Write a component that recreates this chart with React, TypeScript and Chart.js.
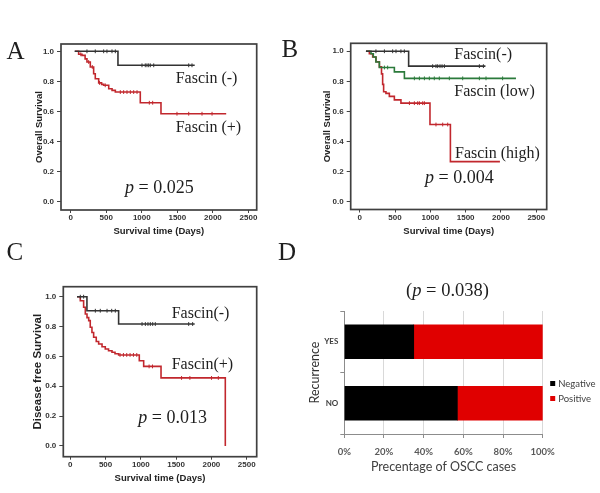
import React, { useEffect, useRef } from "react";
import { Chart, registerables } from "chart.js";
Chart.register(...registerables);

// ---------- shared ticks ----------
const dayTicks = [0, 500, 1000, 1500, 2000, 2500];
const survTicks = [0, 0.2, 0.4, 0.6, 0.8, 1.0];

// ---------- Panel A: Overall survival, Fascin (-) vs (+) ----------
const aNegTimes = [55, 665, 1744];
const aNegSurv = [1.0, 0.907, 0.907];
const aNegCensored = [229, 346, 464, 510, 581, 628, 1003, 1049, 1073, 1097, 1120, 1168, 1660, 1706];
const aPosTimes = [61, 112, 159, 203, 229, 276, 323, 346, 394, 435, 464, 535, 582, 628, 979, 1270, 2187];
const aPosSurv = [1.0, 0.98, 0.973, 0.95, 0.929, 0.896, 0.851, 0.818, 0.79, 0.78, 0.774, 0.751, 0.74, 0.729, 0.658, 0.585, 0.585];
const aPosCensored = [142, 253, 304, 405, 486, 698, 745, 792, 839, 886, 933, 1106, 1153, 1495, 1660, 1847, 1988];

// ---------- Panel B: Overall survival, Fascin (-) / low / high ----------
const bNegTimes = [89, 693, 1780];
const bNegSurv = [1.0, 0.901, 0.901];
const bNegCensored = [230, 350, 467, 514, 584, 632, 1033, 1080, 1104, 1137, 1166, 1199, 1694, 1751];
const bLowTimes = [89, 160, 193, 230, 279, 491, 633, 2212];
const bLowSurv = [1.0, 0.984, 0.962, 0.929, 0.892, 0.863, 0.82, 0.82];
const bLowCensored = [350, 396, 774, 845, 916, 986, 1056, 1127, 1269, 1458, 1694, 1788, 2023];
const bHighTimes = [89, 137, 184, 231, 279, 309, 325, 339, 372, 420, 491, 584, 995, 1284, 1985];
const bHighSurv = [1.0, 0.984, 0.962, 0.93, 0.896, 0.85, 0.78, 0.731, 0.72, 0.7, 0.677, 0.655, 0.513, 0.266, 0.266];
const bHighCensored = [704, 774, 821, 845, 892, 916, 1080, 1175, 1246];

// ---------- Panel C: Disease free survival ----------
const cNegTimes = [95, 236, 685, 1763];
const cNegSurv = [1.0, 0.906, 0.817, 0.817];
const cNegCensored = [142, 189, 355, 425, 521, 587, 638, 1017, 1064, 1101, 1134, 1168, 1205, 1678, 1734];
const cPosTimes = [95, 142, 189, 213, 237, 261, 283, 307, 331, 368, 402, 450, 496, 542, 591, 634, 685, 978, 1040, 1286, 2197];
const cPosSurv = [1.0, 0.973, 0.929, 0.884, 0.86, 0.84, 0.795, 0.76, 0.728, 0.7, 0.683, 0.665, 0.65, 0.638, 0.628, 0.618, 0.61, 0.571, 0.533, 0.456, 0];
const cPosCensored = [705, 753, 800, 847, 895, 942, 1117, 1165, 1577, 1695, 2002, 2098];

// ---------- Panel D: Recurrence vs Fascin ----------
const recurrenceCategories = ["YES", "NO"];
const negativePct = [35, 57];
const positivePct = [65, 43];
const pctTicks = [0, 20, 40, 60, 80, 100];

const BLACK = "#333333";
const RED = "#c1272d";
const GREEN = "#2b7a3b";

function stepAt(times: number[], surv: number[], t: number) {
  let s = surv[0];
  for (let i = 0; i < times.length; i++) if (times[i] <= t) s = surv[i];
  return s;
}

type Curve = { times: number[]; surv: number[]; censored: number[]; color: string };
type Area = { left: number; top: number; right: number; bottom: number };

const framePlugin = {
  id: "frame",
  beforeDatasetsDraw(chart: any) {
    const { ctx, chartArea: a } = chart;
    ctx.save();
    ctx.strokeStyle = "#404040";
    ctx.lineWidth = 1.7;
    ctx.strokeRect(a.left, a.top, a.right - a.left, a.bottom - a.top);
    ctx.restore();
  },
};

const smallFont = { family: "'Liberation Sans', Arial, sans-serif", size: 8, weight: "bold" as const };

function kmConfig(p: {
  curves: Curve[];
  area: Area;
  xMin: number;
  xMax: number;
  yMin: number;
  yMax: number;
  yTitle: string;
  yTitleSize: number;
  yAxisWidth: number;
  xAxisHeight: number;
}) {
  const datasets: any[] = [];
  p.curves.forEach((c) => {
    datasets.push({
      data: c.times.map((t, i) => ({ x: t, y: c.surv[i] })),
      borderColor: c.color,
      borderWidth: 1.6,
      stepped: true,
      pointRadius: 0,
      fill: false,
    });
    datasets.push({
      data: c.censored.map((t) => ({ x: t, y: stepAt(c.times, c.surv, t) })),
      showLine: false,
      pointStyle: "line",
      rotation: 90,
      pointRadius: 1.9,
      pointBorderColor: c.color,
      pointBorderWidth: 1,
      borderColor: c.color,
    });
  });
  return {
    type: "line",
    data: { datasets },
    options: {
      animation: false,
      responsive: false,
      devicePixelRatio: 1,
      events: [],
      layout: {
        padding: {
          left: p.area.left - p.yAxisWidth,
          top: p.area.top,
          right: 600 - p.area.right,
          bottom: 493 - p.area.bottom - p.xAxisHeight,
        },
      },
      plugins: { legend: { display: false }, tooltip: { enabled: false } },
      scales: {
        x: {
          type: "linear",
          min: p.xMin,
          max: p.xMax,
          afterBuildTicks: (s: any) => {
            s.ticks = dayTicks.map((v) => ({ value: v }));
          },
          afterFit: (s: any) => {
            s.height = p.xAxisHeight;
          },
          ticks: {
            font: smallFont,
            color: "#333",
            padding: 0,
            maxRotation: 0,
            autoSkip: false,
            callback: (v: any) => String(v),
          },
          grid: { drawOnChartArea: false, drawTicks: true, tickLength: 3, color: "#444", lineWidth: 1 },
          border: { display: false },
          title: {
            display: true,
            text: "Survival time (Days)",
            font: { family: "'Liberation Sans', Arial, sans-serif", size: 9.5, weight: "bold" },
            color: "#222",
            padding: 0,
          },
        },
        y: {
          type: "linear",
          min: p.yMin,
          max: p.yMax,
          afterBuildTicks: (s: any) => {
            s.ticks = survTicks.map((v) => ({ value: v }));
          },
          afterFit: (s: any) => {
            s.width = p.yAxisWidth;
          },
          ticks: {
            font: smallFont,
            color: "#333",
            padding: 3,
            autoSkip: false,
            callback: (v: any) => Number(v).toFixed(1),
          },
          grid: { drawOnChartArea: false, drawTicks: true, tickLength: 4, color: "#444", lineWidth: 1 },
          border: { display: false },
          title: {
            display: true,
            text: p.yTitle,
            font: { family: "'Liberation Sans', Arial, sans-serif", size: p.yTitleSize, weight: "bold" },
            color: "#222",
            padding: 0,
          },
        },
      },
    },
    plugins: [framePlugin],
  };
}

const configA = kmConfig({
  curves: [
    { times: aNegTimes, surv: aNegSurv, censored: aNegCensored, color: BLACK },
    { times: aPosTimes, surv: aPosSurv, censored: aPosCensored, color: RED },
  ],
  area: { left: 61, top: 44, right: 256.7, bottom: 210 },
  xMin: -136,
  xMax: 2616,
  yMin: -0.055,
  yMax: 1.0486,
  yTitle: "Overall Survival",
  yTitleSize: 9.5,
  yAxisWidth: 27.7,
  xAxisHeight: 27.3,
});

const configB = kmConfig({
  curves: [
    { times: bNegTimes, surv: bNegSurv, censored: bNegCensored, color: BLACK },
    { times: bLowTimes, surv: bLowSurv, censored: bLowCensored, color: GREEN },
    { times: bHighTimes, surv: bHighSurv, censored: bHighCensored, color: RED },
  ],
  area: { left: 350.7, top: 43.3, right: 546.7, bottom: 209.5 },
  xMin: -127,
  xMax: 2647,
  yMin: -0.052,
  yMax: 1.053,
  yTitle: "Overall Survival",
  yTitleSize: 9.5,
  yAxisWidth: 29,
  xAxisHeight: 27.3,
});

const configC = kmConfig({
  curves: [
    { times: cNegTimes, surv: cNegSurv, censored: cNegCensored, color: BLACK },
    { times: cPosTimes, surv: cPosSurv, censored: cPosCensored, color: RED },
  ],
  area: { left: 63.3, top: 286.7, right: 256.7, bottom: 456.7 },
  xMin: -99,
  xMax: 2642,
  yMin: -0.0717,
  yMax: 1.067,
  yTitle: "Disease free Survival",
  yTitleSize: 11.5,
  yAxisWidth: 32,
  xAxisHeight: 27.3,
});

const dArea: Area = { left: 344.3, top: 311, right: 542.7, bottom: 434 };
const dYWidth = 36.8;
const dXHeight = 40.5;

const dLegendPlugin = {
  id: "dLegend",
  afterDraw(chart: any) {
    const { ctx, chartArea: a } = chart;
    const mid = (a.top + a.bottom) / 2;
    ctx.save();
    chart.data.datasets.forEach((ds: any, i: number) => {
      const y = mid + 11 + i * 15;
      ctx.fillStyle = ds.backgroundColor;
      ctx.fillRect(a.right + 7.5, y - 2.5, 5, 5);
      ctx.fillStyle = "#404040";
      ctx.font = "9.5px Lato, sans-serif";
      ctx.textBaseline = "middle";
      ctx.textAlign = "left";
      ctx.fillText(ds.label, a.right + 15.5, y);
    });
    ctx.restore();
  },
};

const configD: any = {
  type: "bar",
  data: {
    labels: recurrenceCategories,
    datasets: [
      { label: "Negative", data: negativePct, backgroundColor: "#000000", barThickness: 34 },
      { label: "Positive", data: positivePct, backgroundColor: "#e00000", barThickness: 34 },
    ],
  },
  options: {
    indexAxis: "y",
    animation: false,
    responsive: false,
    devicePixelRatio: 1,
    events: [],
    layout: {
      padding: {
        left: dArea.left - dYWidth,
        top: dArea.top,
        right: 600 - dArea.right,
        bottom: 493 - dArea.bottom - dXHeight,
      },
    },
    plugins: { legend: { display: false }, tooltip: { enabled: false } },
    scales: {
      x: {
        stacked: true,
        min: 0,
        max: 100,
        afterBuildTicks: (s: any) => {
          s.ticks = pctTicks.map((v) => ({ value: v }));
        },
        afterFit: (s: any) => {
          s.height = dXHeight;
        },
        ticks: {
          callback: (v: any) => v + "%",
          font: { family: "Lato, sans-serif", size: 9.5, weight: "bold" },
          color: "#595959",
          padding: 8,
          maxRotation: 0,
          autoSkip: false,
        },
        grid: { color: "#d9d9d9", tickColor: "#8c8c8c", tickLength: 4, lineWidth: 1 },
        border: { color: "#8c8c8c", width: 1 },
        title: {
          display: true,
          text: "Precentage of OSCC cases",
          font: { family: "Lato, sans-serif", size: 12.5 },
          color: "#404040",
          padding: 0,
        },
      },
      y: {
        stacked: true,
        afterFit: (s: any) => {
          s.width = dYWidth;
        },
        ticks: {
          font: { family: "Lato, sans-serif", size: 8, weight: "bold" },
          color: "#404040",
          padding: 2,
        },
        grid: { drawOnChartArea: false, tickLength: 4, color: "#8c8c8c" },
        border: { color: "#8c8c8c", width: 1 },
        title: {
          display: true,
          text: "Recurrence",
          font: { family: "Lato, sans-serif", size: 12.5 },
          color: "#333333",
          padding: 0,
        },
      },
    },
  },
  plugins: [dLegendPlugin],
};

function ChartLayer({ config }: { config: any }) {
  const ref = useRef<HTMLCanvasElement | null>(null);
  useEffect(() => {
    if (!ref.current) return;
    const chart = new Chart(ref.current, config);
    return () => chart.destroy();
  }, [config]);
  return (
    <canvas
      ref={ref}
      width={600}
      height={493}
      style={{ position: "absolute", left: 0, top: 0, width: 600, height: 493 }}
    />
  );
}

function Label({
  left,
  cy,
  size,
  children,
  center,
}: {
  left: number;
  cy: number;
  size: number;
  children: React.ReactNode;
  center?: boolean;
}) {
  return (
    <div
      style={{
        position: "absolute",
        left,
        top: cy - size * 0.5,
        fontSize: size,
        lineHeight: `${size}px`,
        fontFamily: "'Liberation Serif', 'Times New Roman', serif",
        color: "#1e1e1e",
        whiteSpace: "nowrap",
        transform: center ? "translateX(-50%)" : undefined,
      }}
    >
      {children}
    </div>
  );
}

export default function App() {
  return (
    <div
      style={{
        position: "fixed",
        left: 0,
        top: 0,
        width: 600,
        height: 493,
        background: "#ffffff",
        overflow: "hidden",
      }}
    >
      <ChartLayer config={configA} />
      <ChartLayer config={configB} />
      <ChartLayer config={configC} />
      <ChartLayer config={configD} />

      <Label left={6.5} cy={50} size={25}>A</Label>
      <Label left={281.5} cy={48.3} size={25}>B</Label>
      <Label left={6.5} cy={251.5} size={25}>C</Label>
      <Label left={278} cy={251.5} size={25}>D</Label>

      <Label left={175.7} cy={78.3} size={16}>Fascin (-)</Label>
      <Label left={175.7} cy={126.7} size={16}>Fascin (+)</Label>
      <Label left={125} cy={186.7} size={18}>
        <i>p</i> = 0.025
      </Label>

      <Label left={454.3} cy={54} size={16}>Fascin(-)</Label>
      <Label left={454.3} cy={91} size={16}>Fascin (low)</Label>
      <Label left={455} cy={152.7} size={16}>Fascin (high)</Label>
      <Label left={425} cy={177.3} size={18}>
        <i>p</i> = 0.004
      </Label>

      <Label left={171.7} cy={312.7} size={16}>Fascin(-)</Label>
      <Label left={171.7} cy={364} size={16}>Fascin(+)</Label>
      <Label left={138.3} cy={416.7} size={18}>
        <i>p</i> = 0.013
      </Label>

      <Label left={447.5} cy={290} size={18.5} center>
        (<i>p</i> = 0.038)
      </Label>
    </div>
  );
}
